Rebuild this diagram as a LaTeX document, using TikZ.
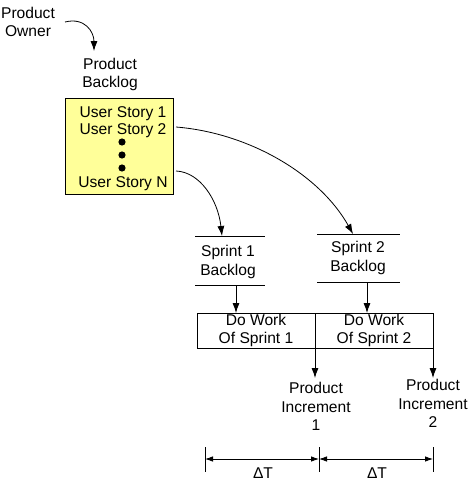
\documentclass[tikz,border=0pt]{standalone}
\usepackage{fontspec}
\setmainfont{Liberation Sans}
\usetikzlibrary{arrows.meta}
\begin{document}
\begin{tikzpicture}[x=1pt,y=-1pt,
  txt/.style={align=center,font=\fontsize{15.6}{18.5}\selectfont,inner sep=0pt},
  arr/.style={-{Latex[length=10pt,width=7pt]},line width=0.8pt},
  dimarr/.style={{Latex[length=8pt,width=5.5pt]}-{Latex[length=8pt,width=5.5pt]},line width=0.8pt},
  ln/.style={line width=0.8pt}]
\useasboundingbox (0,0) rectangle (469,482);
% Product owner
\node[txt] (po) at (28,22) {Product\\Owner};
\node[txt] (pb) at (110,74.5) {Product\\Backlog};
\coordinate (poS) at (65,22);
\coordinate (poE) at (94,51);
\draw[arr] (poS) .. controls (85,17) and (94,32) .. (poE);
% Yellow box
\node[draw,ln,fill={rgb,255:red,255;green,255;blue,153},minimum width=108pt,minimum height=96pt,inner sep=0pt] (ub) at (119,146.5) {};
\node[txt] (us1) at (123,113.5) {User Story 1};
\node[txt] (us2) at (123,130.5) {User Story 2};
\node[txt] (usn) at (123,183.5) {User Story N};
\fill (122,142) circle (3.6pt);
\fill (122,155) circle (3.6pt);
\fill (122,168) circle (3.6pt);
% Sprint backlogs
\coordinate (s1tl) at (195,236); \coordinate (s1tr) at (265,236);
\coordinate (s1bl) at (195,285); \coordinate (s1br) at (265,285);
\draw[ln] (s1tl) -- (s1tr); \draw[ln] (s1bl) -- (s1br);
\node[txt] (s1) at (228,262) {Sprint 1\\Backlog};
\coordinate (s2tl) at (317,234); \coordinate (s2tr) at (400,234);
\coordinate (s2bl) at (317,282); \coordinate (s2br) at (400,282);
\draw[ln] (s2tl) -- (s2tr); \draw[ln] (s2bl) -- (s2br);
\node[txt] (s2) at (358,258) {Sprint 2\\Backlog};
% curves from stories
\coordinate (us2E) at (176,127);
\coordinate (s2T) at (353,234);
\draw[arr] (us2E) .. controls (250,133) and (320,175) .. (s2T);
\coordinate (usnE) at (176,171);
\coordinate (s1T) at (222,236);
\draw[arr] (usnE) .. controls (200,172) and (218,200) .. (s1T);
% Do work boxes
\node[draw,ln,minimum width=118pt,minimum height=35pt,inner sep=0pt] (dw1) at (256,330.5) {};
\node[draw,ln,minimum width=118pt,minimum height=35pt,inner sep=0pt] (dw2) at (374,330.5) {};
\node[txt] (dw1t) at (256,330.5) {Do Work\\Of Sprint 1};
\node[txt] (dw2t) at (374,330.5) {Do Work\\Of Sprint 2};
\coordinate (s1B) at (236,285); \coordinate (dw1T) at (236,313);
\coordinate (s2B) at (367,282); \coordinate (dw2T) at (367,313);
\draw[arr] (s1B) -- (dw1T);
\draw[arr] (s2B) -- (dw2T);
% increments
\node[txt] (pi1) at (316,406.5) {Product\\Increment\\1};
\node[txt] (pi2) at (433,403.5) {Product\\Increment\\2};
\coordinate (d1) at (315,348); \coordinate (d1e) at (315,378);
\coordinate (d2) at (433,348); \coordinate (d2e) at (433,378);
\draw[arr] (d1) -- (d1e);
\draw[arr] (d2) -- (d2e);
% dimension
\coordinate (t1) at (205,459); \coordinate (t2) at (319,459); \coordinate (t3) at (433,459);
\draw[ln] (205,447) -- (205,472);
\draw[ln] (319,447) -- (319,472);
\draw[ln] (433,447) -- (433,472);
\draw[dimarr] (t1) -- (t2);
\draw[dimarr] (t2) -- (t3);
\node[txt] (dt1) at (263,473.5) {ΔT};
\node[txt] (dt2) at (377,473.5) {ΔT};
\end{tikzpicture}
\end{document}
